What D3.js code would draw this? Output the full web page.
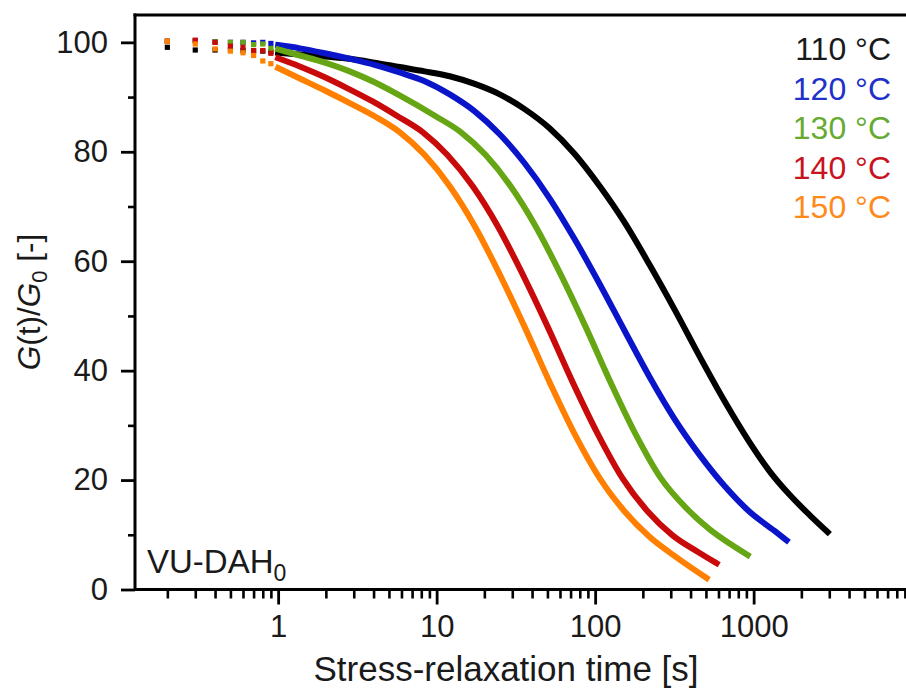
<!DOCTYPE html>
<html>
<head>
<meta charset="utf-8">
<script src="https://cdn.jsdelivr.net/npm/d3@7"></script>
<style>
  html, body { margin: 0; padding: 0; background: #fff; }
  svg { display: block; font-family: "Liberation Sans", Arial, sans-serif; }
</style>
</head>
<body>
<svg id="chart" width="906" height="692"></svg>
<script>
// Series labels and colours
const temps = ["110 °C", "120 °C", "130 °C", "140 °C", "150 °C"];
const lineColors = ["#000000", "#0a14c8", "#66a614", "#c80a0a", "#ff8000"];
const textColors = ["#1a1a1a", "#2030cc", "#66aa30", "#c8141e", "#ff8a1a"];

// Sparse early samples (s)
const earlyTimes = [0.2, 0.3, 0.4, 0.5, 0.6, 0.7, 0.8, 0.9];
const early110 = [99.1, 98.6, 98.6, 98.7, 98.5, 98.4, 98.4, 98.3];
const early120 = [100.2, 100.3, 100.1, 100.0, 100.0, 99.9, 100.0, 99.8];
const early130 = [100.2, 100.3, 100.1, 100.0, 100.0, 99.6, 99.7, 98.9];
const early140 = [100.2, 100.4, 100.0, 99.3, 99.1, 98.5, 98.5, 98.0];
const early150 = [100.2, 99.7, 98.8, 98.4, 98.1, 97.6, 96.6, 96.1];

// Dense relaxation data: time (s) and G(t)/G0 (%)
const t110 = [1.0, 1.37, 1.97, 2.83, 4.06, 5.84, 8.41, 12.1, 17.4, 25.0, 35.9, 51.6, 74.3, 107, 154, 221, 318, 456, 656, 943, 1262, 1687, 2256, 2930];
const g110 = [98.1, 97.8, 97.4, 97.0, 96.3, 95.5, 94.7, 93.8, 92.4, 90.5, 87.8, 84.3, 79.6, 73.7, 67.0, 59.3, 51.1, 42.6, 34.4, 26.9, 21.6, 17.3, 13.6, 10.5];

const t120 = [1.0, 1.37, 1.97, 2.83, 4.06, 5.84, 8.41, 12.1, 17.4, 25.0, 35.9, 51.6, 74.3, 107, 154, 221, 318, 456, 656, 943, 1356, 1615];
const g120 = [99.5, 98.9, 98.0, 97.0, 95.9, 94.5, 92.9, 90.5, 87.4, 83.2, 77.9, 71.5, 64.0, 55.8, 47.2, 38.8, 31.1, 24.6, 18.9, 14.2, 10.7, 9.0];

const t130 = [1.0, 1.37, 1.97, 2.83, 4.06, 5.84, 9.86, 14.2, 20.4, 29.3, 42.1, 60.6, 87.1, 125, 180, 259, 372, 528, 706, 917];
const g130 = [98.7, 97.6, 96.3, 94.7, 92.7, 90.3, 86.5, 83.6, 79.4, 73.7, 66.4, 57.6, 48.0, 37.9, 28.4, 20.4, 15.0, 11.0, 8.4, 6.3];

const t140 = [1.0, 1.37, 1.91, 2.74, 3.95, 5.67, 8.16, 11.7, 16.9, 24.3, 34.9, 50.2, 72.1, 104, 149, 214, 308, 443, 584];
const g140 = [97.1, 95.6, 93.8, 91.6, 89.2, 86.5, 83.6, 79.4, 73.7, 66.4, 57.6, 48.0, 37.9, 28.4, 20.3, 14.3, 9.9, 6.9, 4.8];

const t150 = [1.0, 1.37, 1.97, 2.83, 4.06, 5.84, 8.41, 12.1, 17.4, 25.0, 35.9, 51.6, 74.3, 107, 154, 221, 318, 505];
const g150 = [95.3, 93.4, 91.2, 88.9, 86.5, 83.6, 79.4, 73.7, 66.4, 57.6, 48.0, 37.9, 28.4, 20.3, 14.2, 9.6, 6.1, 2.1];

// Axis ticks
const xMajorTicks = [1, 10, 100, 1000, 10000];
const xTickLabels = [1, 10, 100, 1000];
const xMinorTicks = [];
[0.1, 1, 10, 100, 1000].forEach(d => { for (let k = 2; k <= 9; k++) xMinorTicks.push(d * k); });
const yMajorTicks = [0, 20, 40, 60, 80, 100];
const yMinorTicks = [10, 30, 50, 70, 90];

const earlySets = [early110, early120, early130, early140, early150];
const timeSets = [t110, t120, t130, t140, t150];
const valueSets = [g110, g120, g130, g140, g150];

const svg = d3.select("#chart");
const plotLeft = 135, plotTop = 15, plotBottom = 589.5;
const decade = 158.5;

const x = d3.scaleLog()
  .domain([0.125, 10000])
  .range([plotLeft, plotLeft + decade * Math.log10(10000 / 0.125)]);
const y = d3.scaleLinear().domain([0, 105]).range([plotBottom, plotTop]);

// Curves
const line = d3.line()
  .x(d => x(d[0]))
  .y(d => y(d[1]))
  .curve(d3.curveMonotoneX);

temps.forEach((name, i) => {
  const pts = timeSets[i].map((t, j) => [t, valueSets[i][j]]);
  svg.append("path")
    .datum(pts)
    .attr("fill", "none")
    .attr("stroke", lineColors[i])
    .attr("stroke-width", 6)
    .attr("stroke-linecap", "square")
    .attr("d", line);
  svg.append("g")
    .selectAll("rect")
    .data(earlyTimes.map((t, j) => [t, earlySets[i][j]]))
    .join("rect")
    .attr("x", d => x(d[0]) - 2.6)
    .attr("y", d => y(d[1]) - 2.6)
    .attr("width", 5.2)
    .attr("height", 5.2)
    .attr("fill", lineColors[i]);
});

// Axes
const styleAxis = (g, w) => {
  g.select(".domain").remove();
  g.selectAll(".tick line").attr("stroke", "#000").attr("stroke-width", w);
  g.selectAll(".tick text").attr("fill", "#1a1a1a").attr("font-size", 31)
    .attr("font-family", "'Liberation Sans', Arial, sans-serif");
};

svg.append("g")
  .attr("transform", `translate(0,${plotBottom})`)
  .call(d3.axisBottom(x).tickValues(xMinorTicks).tickSize(9).tickFormat(""))
  .call(g => styleAxis(g, 2.6));
svg.append("g")
  .attr("transform", `translate(0,${plotBottom})`)
  .call(d3.axisBottom(x).tickValues(xMajorTicks).tickSize(15).tickPadding(10)
    .tickFormat(d => xTickLabels.includes(d) ? d3.format("d")(d) : ""))
  .call(g => styleAxis(g, 2.8));

svg.append("g")
  .attr("transform", `translate(${plotLeft},0)`)
  .call(d3.axisLeft(y).tickValues(yMinorTicks).tickSize(7).tickFormat(""))
  .call(g => styleAxis(g, 2.6));
svg.append("g")
  .attr("transform", `translate(${plotLeft},0)`)
  .call(d3.axisLeft(y).tickValues(yMajorTicks).tickSize(14).tickPadding(13)
    .tickFormat(d3.format("d")))
  .call(g => styleAxis(g, 2.8));

// Frame lines: left, bottom and top
const frame = svg.append("g").attr("stroke", "#000").attr("stroke-width", 3);
frame.append("line").attr("x1", plotLeft).attr("x2", plotLeft).attr("y1", plotTop - 1.5).attr("y2", plotBottom + 1.5);
frame.append("line").attr("x1", plotLeft).attr("x2", 906).attr("y1", plotBottom).attr("y2", plotBottom);
frame.append("line").attr("x1", plotLeft - 1.5).attr("x2", 906).attr("y1", plotTop).attr("y2", plotTop);

// Legend
temps.forEach((name, i) => {
  svg.append("text")
    .attr("x", 891)
    .attr("y", 60 + i * 39.5)
    .attr("text-anchor", "end")
    .attr("font-size", 32)
    .attr("fill", textColors[i])
    .text(name);
});

// Sample label
const sample = svg.append("text")
  .attr("x", 147).attr("y", 573)
  .attr("font-size", 33).attr("fill", "#1a1a1a");
sample.append("tspan").text("VU-DAH");
sample.append("tspan").attr("font-size", 23).attr("dy", 8).text("0");

// Axis titles
svg.append("text")
  .attr("x", 506).attr("y", 681)
  .attr("text-anchor", "middle")
  .attr("font-size", 35)
  .attr("fill", "#1a1a1a")
  .text("Stress-relaxation time [s]");

const yTitle = svg.append("text")
  .attr("transform", "translate(40,302) rotate(-90)")
  .attr("text-anchor", "middle")
  .attr("font-size", 31.5)
  .attr("fill", "#1a1a1a");
yTitle.append("tspan").attr("font-style", "italic").text("G");
yTitle.append("tspan").text("(t)/");
yTitle.append("tspan").attr("font-style", "italic").text("G");
yTitle.append("tspan").attr("font-size", 22).attr("dy", 7).text("0");
yTitle.append("tspan").attr("dy", -7).text(" [-]");
</script>
</body>
</html>
